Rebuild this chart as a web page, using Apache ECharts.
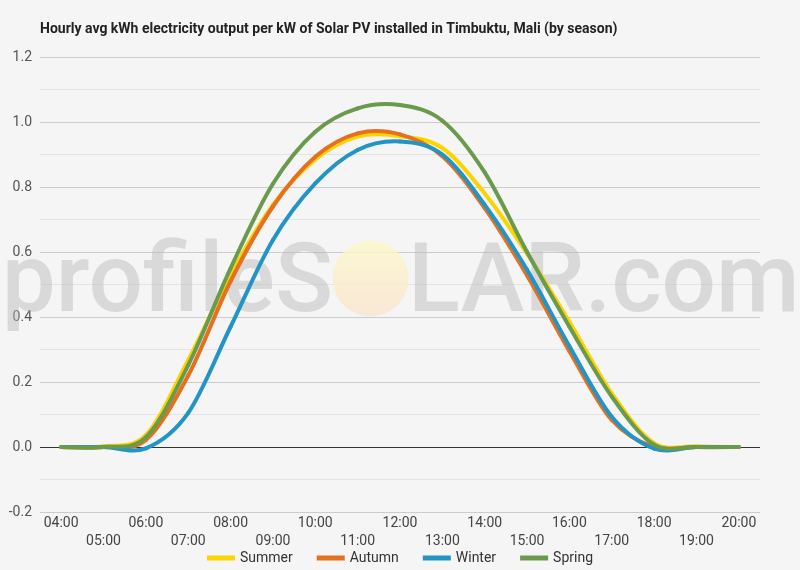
<!DOCTYPE html>
<html>
<head>
<meta charset="utf-8">
<script src="https://cdn.jsdelivr.net/npm/echarts@6/dist/echarts.min.js"></script>
<style>
  html, body { margin: 0; padding: 0; background: #f5f5f5; }
  #main { width: 800px; height: 570px; }
</style>
</head>
<body>
<div id="main"></div>
<script>
// hours on the x axis
var hours = ['04:00', '05:00', '06:00', '07:00', '08:00', '09:00', '10:00', '11:00', '12:00',
  '13:00', '14:00', '15:00', '16:00', '17:00', '18:00', '19:00', '20:00'];
// kWh per kW
var summer = [0, 0.002, 0.037, 0.268, 0.53, 0.745, 0.885, 0.955, 0.956, 0.92, 0.78, 0.595, 0.385, 0.165, 0.012, 0.002, 0];
var autumn = [0, 0, 0.022, 0.22, 0.51, 0.74, 0.893, 0.965, 0.962, 0.895, 0.735, 0.528, 0.295, 0.083, 0, 0, 0];
var winter = [0, 0, -0.004, 0.105, 0.37, 0.637, 0.811, 0.914, 0.94, 0.9, 0.745, 0.545, 0.31, 0.093, -0.005, 0, 0];
var spring = [0, 0, 0.03, 0.252, 0.55, 0.81, 0.97, 1.042, 1.052, 1.004, 0.845, 0.60, 0.37, 0.155, 0.007, 0, 0];
var seasons = ['Summer', 'Autumn', 'Winter', 'Spring'];
var colors = ['#fdd400', '#e5701f', '#2394c6', '#6a9a4e'];

var chart = echarts.init(document.getElementById('main'));

// smooth curve (catmull-rom) through the points the axes give back
function curveRender(values, idx) {
  return function (params, api) {
    if (params.dataIndex !== 0) return null;
    var pts = values.map(function (v, i) { return api.coord([i, v]); });
    var children = [];
    if (idx === 0) {
      // black zero line
      var z0 = api.coord([0, 0]);
      children.push({
        type: 'line',
        shape: { x1: params.coordSys.x, y1: Math.round(z0[1]) + 0.5, x2: params.coordSys.x + params.coordSys.width, y2: Math.round(z0[1]) + 0.5 },
        style: { stroke: '#333', lineWidth: 1 }
      });
    }
    for (var i = 0; i < pts.length - 1; i++) {
      var p0 = pts[Math.max(i - 1, 0)], p1 = pts[i], p2 = pts[i + 1], p3 = pts[Math.min(i + 2, pts.length - 1)];
      children.push({
        type: 'bezierCurve',
        shape: {
          x1: p1[0], y1: p1[1],
          cpx1: p1[0] + (p2[0] - p0[0]) / 6, cpy1: p1[1] + (p2[1] - p0[1]) / 6,
          cpx2: p2[0] - (p3[0] - p1[0]) / 6, cpy2: p2[1] - (p3[1] - p1[1]) / 6,
          x2: p2[0], y2: p2[1]
        },
        style: { stroke: colors[idx], lineWidth: 4, fill: null, lineCap: 'round' }
      });
    }
    return { type: 'group', children: children };
  };
}

function makeSeries(name, data, idx) {
  return {
    name: name,
    type: 'custom',
    data: data.map(function (v, i) { return [i, v]; }),
    renderItem: curveRender(data, idx),
    itemStyle: { color: colors[idx] },
    clip: false,
    z: 3 + idx
  };
}

var wmFont = '500 96px Roboto';
var option = {
  backgroundColor: '#f5f5f5',
  animation: false,
  title: {
    text: 'Hourly avg kWh electricity output per kW of Solar PV installed in Timbuktu, Mali (by season)',
    left: 35,
    top: 17,
    textStyle: { fontFamily: 'Roboto', fontSize: 14, fontWeight: 'bold', color: '#222' }
  },
  legend: {
    data: seasons,
    top: 546,
    left: 'center',
    icon: 'rect',
    itemWidth: 28,
    itemHeight: 5,
    itemGap: 24,
    textStyle: { fontFamily: 'Roboto', fontSize: 14, color: '#333' }
  },
  grid: { left: 40, right: 40, top: 57, bottom: 58 },
  graphic: [
    {
      type: 'text',
      z: 1,
      style: {
        text: 'profileS',
        x: 333, y: 287,
        align: 'right',
        verticalAlign: 'middle',
        font: wmFont,
        fill: 'rgba(185,185,185,0.45)'
      }
    },
    {
      type: 'circle',
      z: 1,
      shape: { cx: 370.5, cy: 278.5, r: 38 },
      style: {
        fill: new echarts.graphic.LinearGradient(0, 0, 0, 1, [
          { offset: 0, color: 'rgba(252,248,200,0.8)' },
          { offset: 1, color: 'rgba(250,228,205,0.8)' }
        ])
      }
    },
    {
      type: 'text',
      z: 1,
      style: {
        text: 'LAR.com',
        x: 408, y: 287,
        align: 'left',
        verticalAlign: 'middle',
        font: wmFont,
        fill: 'rgba(185,185,185,0.45)'
      }
    }
  ],
  xAxis: {
    type: 'category',
    data: hours,
    boundaryGap: true,
    axisLine: { show: false },
    axisTick: { show: false },
    axisLabel: {
      interval: 0,
      margin: 2,
      fontFamily: 'Roboto',
      fontSize: 14,
      lineHeight: 18.5,
      color: '#444',
      formatter: function (v, i) { return i % 2 ? '\n' + v : v; }
    },
    splitLine: { show: false }
  },
  yAxis: {
    type: 'value',
    min: -0.2,
    max: 1.2,
    interval: 0.2,
    axisLine: { show: false },
    axisTick: { show: false },
    axisLabel: {
      margin: 8,
      fontFamily: 'Roboto',
      fontSize: 14,
      color: '#555',
      formatter: function (v) { return v.toFixed(1); }
    },
    splitLine: { lineStyle: { color: '#cccccc', width: 1 } },
    minorTick: { show: false, splitNumber: 2 },
    minorSplitLine: { show: true, lineStyle: { color: '#e4e4e4', width: 1 } }
  },
  series: [
    makeSeries('Summer', summer, 0),
    makeSeries('Autumn', autumn, 1),
    makeSeries('Winter', winter, 2),
    makeSeries('Spring', spring, 3)
  ]
};

chart.setOption(option);
</script>
</body>
</html>
